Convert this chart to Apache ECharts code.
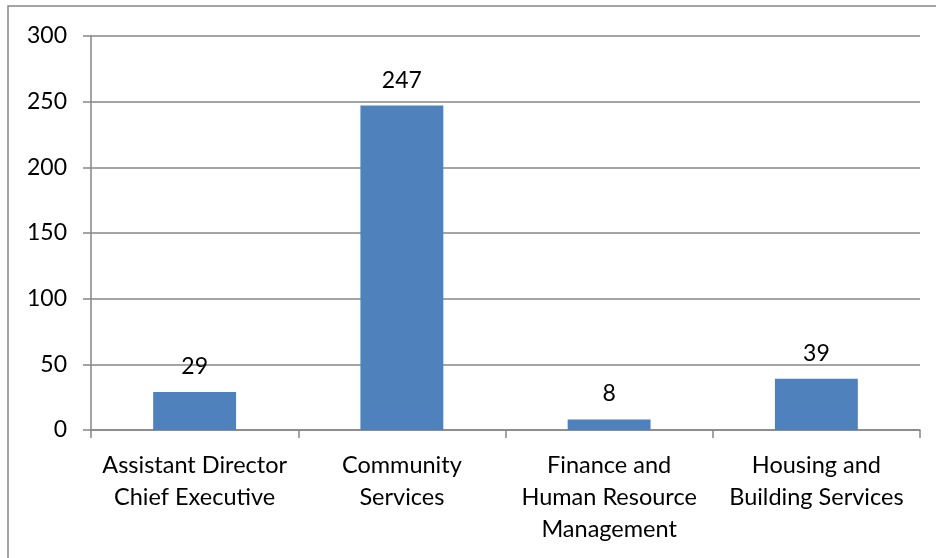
<!DOCTYPE html>
<html>
<head>
<meta charset="utf-8">
<style>html,body{margin:0;padding:0;background:#fff;}#c{width:936px;height:558px;}</style>
<script src="https://cdn.jsdelivr.net/npm/echarts@6/dist/echarts.min.js"></script>
</head>
<body>
<div id="c"></div>
<script>
var categories = ["Assistant Director\nChief Executive", "Community\nServices", "Finance and\nHuman Resource\nManagement", "Housing and\nBuilding Services"];
var values = [29, 247, 8, 39];
var yTicks = [0, 50, 100, 150, 200, 250, 300];

var chart = echarts.init(document.getElementById('c'), null, {renderer: 'canvas'});
var FONT = 'Lato';
chart.setOption({
  animation: false,
  backgroundColor: '#fff',
  grid: {left: 91, right: 16, top: 36, bottom: 128, containLabel: false},
  graphic: [{
    type: 'rect', shape: {x: 8, y: 6, width: 1200, height: 1200},
    style: {fill: 'none', stroke: '#868686', lineWidth: 1.5}, silent: true, z: -1
  }],
  xAxis: {
    type: 'category', data: categories,
    axisLine: {show: true, lineStyle: {color: '#868686', width: 1.5}},
    axisTick: {show: true, length: 8, lineStyle: {color: '#868686', width: 1.5}},
    axisLabel: {color: '#000', fontFamily: FONT, fontSize: 23.5, lineHeight: 32, margin: 19, interval: 0}
  },
  yAxis: {
    type: 'value', min: yTicks[0], max: yTicks[yTicks.length - 1], interval: 50,
    axisLine: {show: true, lineStyle: {color: '#868686', width: 1.5}},
    axisTick: {show: true, length: 8, lineStyle: {color: '#868686', width: 1.5}},
    splitLine: {show: true, lineStyle: {color: '#868686', width: 1.5}},
    axisLabel: {color: '#000', fontFamily: FONT, fontSize: 23, margin: 24}
  },
  series: [{
    type: 'bar', data: values, barWidth: '40%',
    itemStyle: {color: '#4F81BD'},
    label: {show: true, position: 'top', distance: 14, color: '#000', fontFamily: FONT, fontSize: 23}
  }]
});
</script>
</body>
</html>
